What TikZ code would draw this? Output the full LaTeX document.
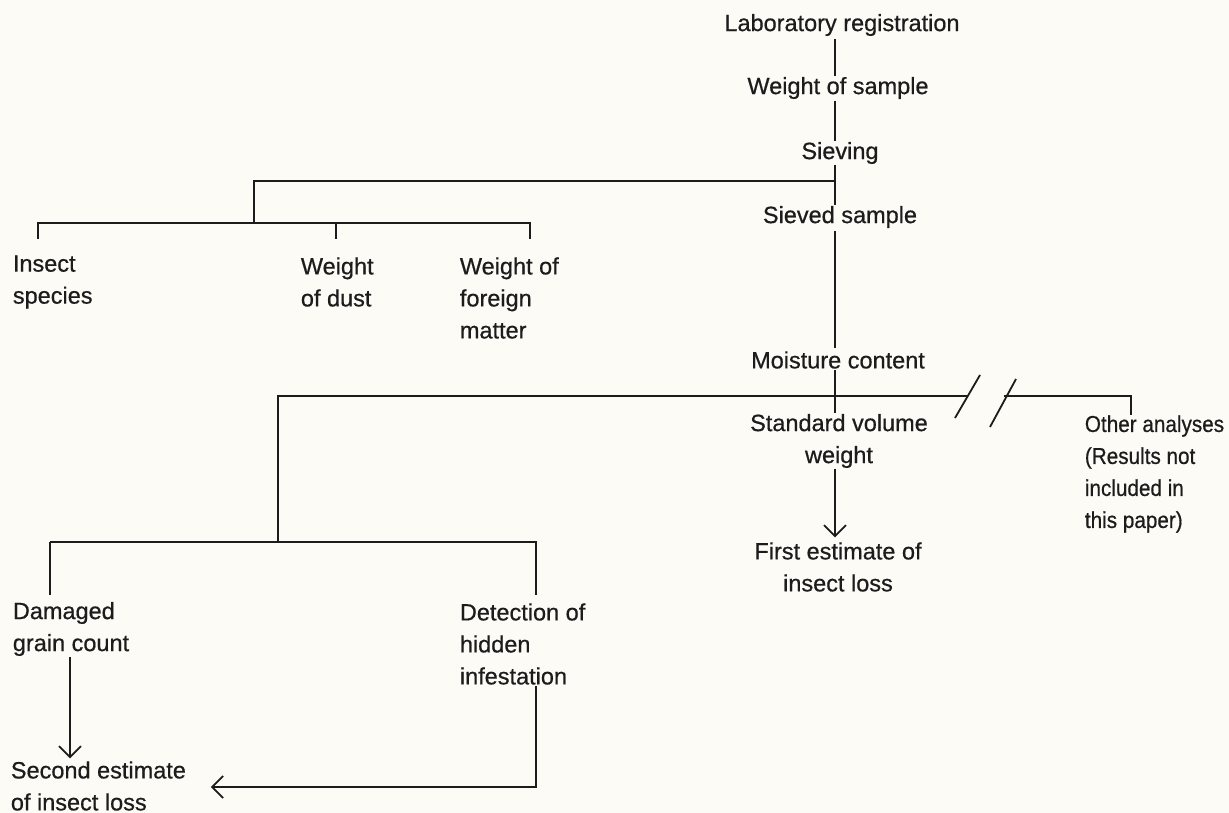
\documentclass[tikz,border=0pt]{standalone}
\usepackage{fontspec}
\setmainfont{Liberation Sans}[FakeBold=0.6]
\usetikzlibrary{arrows.meta}
\definecolor{paper}{RGB}{252,251,246}
\definecolor{ink}{RGB}{28,28,28}
\begin{document}
\begin{tikzpicture}[x=1pt,y=-1pt,
  line width=1.8pt, draw=ink, text=ink,
  every node/.style={font=\fontsize{23.5}{32}\selectfont, inner sep=0pt},
  lbl/.style={align=left, anchor=west},
  ctr/.style={align=center},
  arr/.style={-{Straight Barb[length=11pt,width=22pt,line width=1.8pt]}}]
\fill[paper] (0,0) rectangle (1229,813);
\useasboundingbox (0,0) rectangle (1229,813);

% main column nodes
\node[ctr] (lab)    at (842,25)  {Laboratory registration};
\node[ctr] (wos)    at (838,88)  {Weight of sample};
\node[ctr] (siev)   at (840,153) {Sieving};
\node[ctr] (sieved) at (840,217) {Sieved sample};
\node[ctr] (moist)  at (838,360) {Moisture content};
\node[ctr] (svw)    at (839,441) {Standard volume\\weight};
\node[ctr] (first)  at (838,567) {First estimate of\\insect loss};
\node[lbl, font=\fontsize{23}{32}\selectfont\addfontfeature{FakeStretch=0.9}] (other) at (1084,474) {Other analyses\\(Results not\\included in\\this paper)};

% upper branch nodes
\node[lbl] (insect)  at (12,282)  {Insect\\species};
\node[lbl] (dust)    at (300,282) {Weight\\of dust};
\node[lbl] (foreign) at (459,298) {Weight of\\foreign\\matter};

% lower branch nodes
\node[lbl] (damaged) at (12,629)  {Damaged\\grain count};
\node[lbl] (detect)  at (459,644) {Detection of\\hidden\\infestation};
\node[lbl] (second)  at (10,786)  {Second estimate\\of insect loss};

% coordinates
\coordinate (mx) at (835,0);
\coordinate (j1) at (835,181);
\coordinate (u1) at (254,181);
\coordinate (u2) at (254,223);
\coordinate (ul) at (38,223);
\coordinate (ud) at (336,223);
\coordinate (ur) at (530,223);
\coordinate (j2) at (835,396);
\coordinate (l1) at (278,396);
\coordinate (l2) at (278,542);
\coordinate (ll) at (50,542);
\coordinate (lr) at (536,542);
\coordinate (bl) at (967,396);
\coordinate (br) at (1004,396);
\coordinate (oc) at (1131,396);
\coordinate (dx) at (70,0);
\coordinate (dc) at (536,787);

% main column connectors
\draw ([yshift=-2pt]lab.south -| mx) -- (wos.north -| mx);
\draw ([yshift=-1pt]wos.south -| mx) -- (siev.north -| mx);
\draw (siev.south -| mx) -- (sieved.north -| mx);
\draw ([yshift=-2pt]sieved.south -| mx) -- ([yshift=2pt]moist.north -| mx);
\draw (moist.south -| mx) -- (svw.north -| mx);
\draw[arr] (svw.south -| mx) -- ([yshift=4pt]first.north -| mx);

% upper branch
\draw (j1) -- (u1) -- (u2);
\draw (ul) ++(0,16) coordinate (ult) (ult) -- (ul) -- (ur) -- ++(0,16);
\draw (ud) -- ++(0,16);

% lower branch with break
\draw (j2) -- (l1) -- (l2);
\draw (l1) -- (bl);
\draw (955,418) -- (980,375);
\draw (990,427) -- (1016,379);
\draw (br) -- (oc) -- ++(0,19);
\draw (ll) -- ++(0,53);
\draw (ll) -- (lr) -- ++(0,53);

% arrows to second estimate
\draw[arr] (damaged.south -| dx) -- ([yshift=2pt]second.north -| dx);
\draw[arr] (detect.south -| dc) -- (dc) -- ([xshift=24pt]second.east |- dc);
\end{tikzpicture}
\end{document}
